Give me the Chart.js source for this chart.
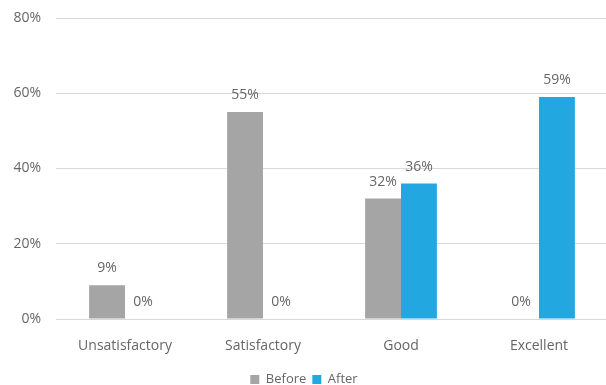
<!DOCTYPE html>
<html>
<head>
<meta charset="utf-8">
<script src="https://cdn.jsdelivr.net/npm/chart.js@4/dist/chart.umd.min.js"></script>
<style>
    html, body { margin: 0; padding: 0; background: #ffffff; overflow: hidden; }
    #wrap { width: 608px; height: 385px; }
</style>
</head>
<body>
<div id="wrap"><canvas id="ratingChart"></canvas></div>
<script>

/* ---------------------------------------------------
   Rating data (percent of responses)
---------------------------------------------------*/

const categories = ["Unsatisfactory", "Satisfactory", "Good", "Excellent"];
const beforeValues = [9, 55, 32, 0];
const afterValues = [0, 0, 36, 59];
const yTicks = [0, 20, 40, 60, 80];

const textColor = "#666666";
const fontFamily = "'Open Sans', sans-serif";


/* ---------------------------------------------------
   Value labels above each bar
---------------------------------------------------*/

const barValueLabels = {
    id: "barValueLabels",
    afterDatasetsDraw(chart) {

        const ctx = chart.ctx;
        ctx.save();
        ctx.font = "14px " + fontFamily;
        ctx.fillStyle = textColor;
        ctx.textAlign = "center";
        ctx.textBaseline = "bottom";

        chart.data.datasets.forEach((ds, i) => {
            chart.getDatasetMeta(i).data.forEach((bar, j) => {
                ctx.fillText(ds.data[j] + "%", bar.x, bar.y - 10);
            });
        });

        ctx.restore();
    }
};


/* ---------------------------------------------------
   Chart
---------------------------------------------------*/

new Chart(document.getElementById("ratingChart"), {
    type: "bar",
    data: {
        labels: categories,
        datasets: [
            {
                label: "Before",
                data: beforeValues,
                backgroundColor: "#A5A5A5"
            },
            {
                label: "After",
                data: afterValues,
                backgroundColor: "#22A7E0"
            }
        ]
    },
    options: {
        responsive: true,
        maintainAspectRatio: false,
        animation: false,
        categoryPercentage: 0.52,
        barPercentage: 1,
        layout: {
            padding: { top: 18, left: 0, right: 0, bottom: -11 }
        },
        scales: {
            x: {
                grid: { display: false },
                border: { display: false },
                ticks: {
                    color: textColor,
                    font: { family: fontFamily, size: 14 },
                    padding: 11
                },
                afterFit(scale) { scale.height = 48; }
            },
            y: {
                min: 0,
                max: 80,
                afterBuildTicks(scale) {
                    scale.ticks = yTicks.map(v => ({ value: v }));
                },
                grid: { color: "#D9D9D9", drawTicks: false },
                border: { display: false },
                ticks: {
                    color: textColor,
                    font: { family: fontFamily, size: 14 },
                    padding: 15,
                    callback: v => v + "%"
                },
                afterFit(scale) {
                    scale.width = 56;
                    scale.paddingTop = 0;
                    scale.paddingBottom = 0;
                }
            }
        },
        plugins: {
            legend: {
                position: "bottom",
                labels: {
                    color: textColor,
                    font: { family: fontFamily, size: 13 },
                    boxWidth: 9,
                    boxHeight: 9,
                    padding: 6
                }
            },
            tooltip: { enabled: false }
        }
    },
    plugins: [barValueLabels]
});

</script>
</body>
</html>
